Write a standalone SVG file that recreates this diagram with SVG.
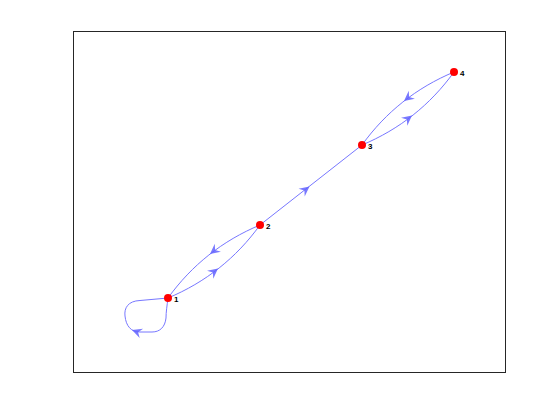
<svg xmlns="http://www.w3.org/2000/svg" width="560" height="420" viewBox="0 0 560 420">
<style>
.edge{fill:none;stroke:#7777ff;stroke-width:1}
.arr{fill:#6262ff;fill-opacity:0.85}
.node{fill:#ff0000}
.lbl{font-family:"Liberation Sans",Arial,sans-serif;font-size:8px;font-weight:bold;fill:#000}
</style>
<defs>
<path id="ah" d="M0,0 L-10,-5 L-6.5,0 L-10,5 Z"/>
</defs>
<rect x="0" y="0" width="560" height="420" fill="#ffffff"/>
<rect x="73.5" y="31.5" width="432" height="341" fill="none" stroke="#262626" stroke-width="1"/>
<g id="connectors">
<path class="edge" d="M168,298 C205.5,282.3 236.2,258 260,225"/>
<path class="edge" d="M260,225 C222.5,240.7 191.8,265 168,298"/>
<path class="edge" d="M260,225 L362,145"/>
<path class="edge" d="M362,145 C399.5,129.3 430.2,105 454,72"/>
<path class="edge" d="M454,72 C416.5,87.7 385.8,112 362,145"/>
<path class="edge" d="M168,298 C167,306 166,312 166,318 C165,327 160,332 152,332 L140,332 C131,332 126,326 125,316 C124,308 128,301 140,300.5 L168,298"/>
<use href="#ah" class="arr" transform="translate(218,268.5) rotate(-38.4)"/>
<use href="#ah" class="arr" transform="translate(210,254) rotate(141.6)"/>
<use href="#ah" class="arr" transform="translate(309.5,186.5) rotate(-38.1)"/>
<use href="#ah" class="arr" transform="translate(412,115.5) rotate(-38.4)"/>
<use href="#ah" class="arr" transform="translate(404,101) rotate(141.6)"/>
<use href="#ah" class="arr" transform="translate(132,330) rotate(200)"/>
</g>
<g id="node1"><circle class="node" cx="168" cy="298" r="4"/><text class="lbl" x="174" y="301.5">1</text></g>
<g id="node2"><circle class="node" cx="260" cy="225" r="4"/><text class="lbl" x="266" y="228.5">2</text></g>
<g id="node3"><circle class="node" cx="362" cy="145" r="4"/><text class="lbl" x="368" y="148.5">3</text></g>
<g id="node4"><circle class="node" cx="454" cy="72" r="4"/><text class="lbl" x="460" y="75.5">4</text></g>
</svg>
